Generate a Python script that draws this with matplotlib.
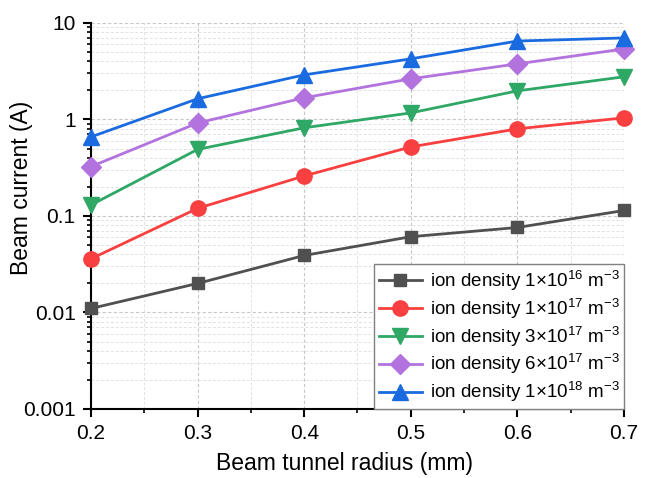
import matplotlib
matplotlib.use("Agg")
import matplotlib.pyplot as plt
from matplotlib.ticker import FuncFormatter, LogLocator, MultipleLocator

plt.rcParams['font.family'] = ['Liberation Sans', 'DejaVu Sans']
plt.rcParams['mathtext.fontset'] = 'custom'
plt.rcParams['mathtext.rm'] = 'Liberation Sans'
plt.rcParams['mathtext.it'] = 'Liberation Sans'

radius = [0.2, 0.3, 0.4, 0.5, 0.6, 0.7]
i_1e16 = [0.011, 0.020, 0.039, 0.061, 0.076, 0.114]
i_1e17 = [0.036, 0.12, 0.26, 0.52, 0.80, 1.04]
i_3e17 = [0.13, 0.49, 0.82, 1.17, 1.98, 2.77]
i_6e17 = [0.325, 0.92, 1.68, 2.64, 3.77, 5.38]
i_1e18 = [0.66, 1.64, 2.9, 4.25, 6.5, 7.0]

labels = [r'ion density 1$\times$10$^{16}$ m$^{-3}$',
          r'ion density 1$\times$10$^{17}$ m$^{-3}$',
          r'ion density 3$\times$10$^{17}$ m$^{-3}$',
          r'ion density 6$\times$10$^{17}$ m$^{-3}$',
          r'ion density 1$\times$10$^{18}$ m$^{-3}$']
series = [i_1e16, i_1e17, i_3e17, i_6e17, i_1e18]
colors = ['#505050', '#F84040', '#2FA866', '#B273DE', '#1A6BE0']
markers = ['s', 'o', 'v', 'D', '^']
msizes = [9, 11, 11, 10, 11]

fig = plt.figure(figsize=(6.51, 4.78), dpi=100)
ax = fig.add_axes([0.1398, 0.1444, 0.8187, 0.8075])

for y, c, m, ms, lab in zip(series, colors, markers, msizes, labels):
    ax.plot(radius, y, color=c, marker=m, markersize=ms, linewidth=2, label=lab,
            clip_on=False, zorder=3)

ax.set_yscale('log')
ax.set_xlim(0.2, 0.7)
ax.set_ylim(0.001, 10)
ax.xaxis.set_major_locator(MultipleLocator(0.1))
ax.xaxis.set_minor_locator(MultipleLocator(0.05))
ax.xaxis.set_major_formatter(FuncFormatter(lambda v, p: f'{v:.1f}'))
ax.yaxis.set_major_locator(LogLocator(base=10, numticks=10))
ax.yaxis.set_minor_locator(LogLocator(base=10, subs=range(2, 10), numticks=20))
ax.yaxis.set_major_formatter(FuncFormatter(lambda v, p: f'{v:g}'))

ax.grid(True, which='major', color='#c8c8c8', linestyle=(0, (3, 2)), linewidth=0.8)
ax.grid(True, which='minor', color='#e2e2e2', linestyle=(0, (3, 2)), linewidth=0.7)
ax.set_axisbelow(True)

for s in ['top', 'right']:
    ax.spines[s].set_visible(False)
for s in ['left', 'bottom']:
    ax.spines[s].set_linewidth(1.5)

ax.tick_params(which='major', direction='out', length=6, width=1.5, labelsize=15, pad=5)
ax.tick_params(which='minor', direction='out', length=3, width=1.2)

ax.set_xlabel('Beam tunnel radius (mm)', fontsize=16.5)
ax.set_ylabel('Beam current (A)', fontsize=16.5)
ax.xaxis.set_label_coords(0.475, -0.112)
ax.yaxis.set_label_coords(-0.108, 0.5725)

leg = ax.legend(loc='lower right', fontsize=13.5, frameon=True, fancybox=False,
                edgecolor='#808080', framealpha=1, borderpad=0.25, labelspacing=0.2,
                handlelength=2.3, handletextpad=0.4, borderaxespad=0.0)
leg.get_frame().set_linewidth(1.0)
leg.set_zorder(5)

fig.savefig('out.png', dpi=100)
